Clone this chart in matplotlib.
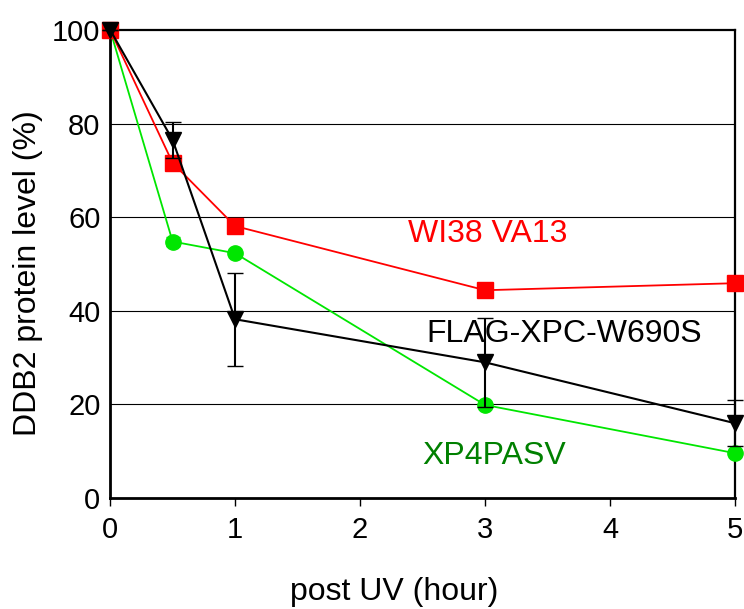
import matplotlib.pyplot as plt

plt.rcParams['font.family'] = ['Liberation Sans', 'DejaVu Sans']

# Time points (hours after UV)
hours = [0, 0.5, 1, 3, 5]

# DDB2 protein level (%)
wi38 = [100, 71.6, 58.1, 44.4, 45.9]
xp4pasv = [100, 54.8, 52.3, 19.9, 9.6]
xp4pasv_err = [0, 1.0, 0, 0, 0]
flag_xpc = [100, 76.5, 38.2, 29.0, 16.0]
flag_xpc_err = [0, 3.9, 9.9, 9.5, 4.9]

fig = plt.figure(figsize=(7.44, 6.09), dpi=100)
ax = fig.add_axes([0.148, 0.182, 0.84, 0.769])

# Gridlines behind data
for y in [20, 40, 60, 80]:
    ax.axhline(y, color='black', linewidth=0.8, zorder=0)

# Green series
ax.errorbar(hours, xp4pasv, yerr=xp4pasv_err, color='#00e600', marker='o',
            markersize=11, linewidth=1.3, capsize=5, elinewidth=1.3,
            clip_on=False, zorder=3)

# Red series
ax.plot(hours, wi38, color='#ff0000', marker='s', markersize=11,
        linewidth=1.3, clip_on=False, zorder=4)

# Black series with error bars
ax.errorbar(hours, flag_xpc, yerr=flag_xpc_err, color='black', marker='v',
            markersize=11, linewidth=1.5, capsize=6, elinewidth=1.5,
            clip_on=False, zorder=5)

# Series labels
ax.text(2.38, 56.5, 'WI38 VA13', color='#ff0000', fontsize=23, va='center')
ax.text(2.53, 35, 'FLAG-XPC-W690S', color='black', fontsize=23, va='center')
ax.text(2.5, 9, 'XP4PASV', color='#008000', fontsize=23, va='center')

ax.set_xlim(0, 5)
ax.set_ylim(0, 100)
ax.set_xticks([0, 1, 2, 3, 4, 5])
ax.set_yticks([0, 20, 40, 60, 80, 100])
ax.tick_params(axis='x', direction='out', length=6, width=1, labelsize=21, pad=7)
ax.tick_params(axis='y', length=0, labelsize=21, pad=7)

for side in ['left', 'bottom']:
    ax.spines[side].set_linewidth(2)
for side in ['top', 'right']:
    ax.spines[side].set_linewidth(1.6)

ax.set_xlabel('post UV (hour)', fontsize=23)
ax.xaxis.set_label_coords(0.455, -0.168)
ax.set_ylabel('DDB2 protein level (%)', fontsize=23)
ax.yaxis.set_label_coords(-0.108, 0.48)

fig.savefig('out.png', dpi=100)
